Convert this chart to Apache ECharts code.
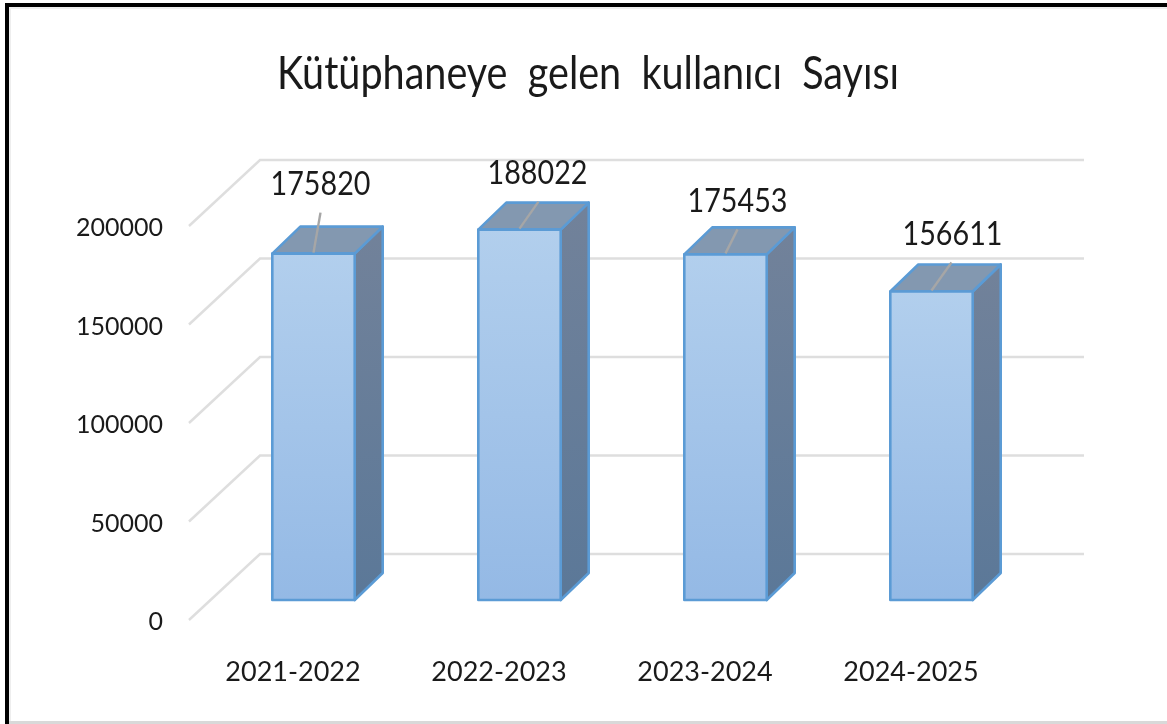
<!DOCTYPE html>
<html><head><meta charset="utf-8">
<style>html,body{margin:0;padding:0;background:#fff}#c{width:1167px;height:724px}</style>
<script src="https://cdn.jsdelivr.net/npm/echarts@6/dist/echarts.min.js"></script>
</head><body><div id="c"></div>
<script>
const categories = ['2021-2022','2022-2023','2023-2024','2024-2025'];
const values = [175820,188022,175453,156611];
const ticks = [0,50000,100000,150000,200000];
const titleText = 'Kütüphaneye  gelen  kullanıcı  Sayısı';

const FONT = 'Lato, sans-serif';
// leader-line end and label centre relative to the bar's top-front centre
const labelPlacement = [
  {lx:7, ly:-41, tx:7, ty:-69},
  {lx:19, ly:-28, tx:18, ty:-56},
  {lx:12, ly:-25, tx:12, ty:-53},
  {lx:20, ly:-29, tx:21, ty:-57}
];
const wall = {dx:70, dy:68};
const barShiftX = 20.5, barShiftY = 22, depthX = 28, depthY = 27;

const chart = echarts.init(document.getElementById('c'), null, {renderer:'canvas'});
chart.setOption({
  animation:false,
  backgroundColor:'#fff',
  grid:{left:190,width:824,top:228,height:394},
  xAxis:{type:'category',data:categories,
    axisLine:{show:false},axisTick:{show:false},splitLine:{show:false},
    axisLabel:{margin:37,fontFamily:FONT,fontSize:27,color:'#1a1a1a'}},
  yAxis:{type:'value',min:0,max:200000,interval:50000,
    axisLine:{show:false},axisTick:{show:false},splitLine:{show:false},
    axisLabel:{margin:27,fontFamily:FONT,fontSize:25,color:'#1a1a1a',formatter:v=>String(v)}},
  graphic:[
    {type:'rect',shape:{x:5,y:3,width:1162,height:4},style:{fill:'#000'},silent:true},
    {type:'rect',shape:{x:5,y:3,width:4,height:721},style:{fill:'#000'},silent:true},
    {type:'rect',shape:{x:9,y:7,width:1158,height:2},style:{fill:'#eeeeee'},silent:true},
    {type:'rect',shape:{x:9,y:7,width:2,height:717},style:{fill:'#eeeeee'},silent:true},
    {type:'rect',shape:{x:9,y:721,width:1158,height:3},style:{fill:'#d9d9d9'},silent:true},
    {type:'text',x:588,y:74,scaleX:0.86,silent:true,
      style:{text:titleText,fontFamily:FONT,fontSize:46,fill:'#1a1a1a',align:'center',verticalAlign:'middle'}}
  ],
  series:[
    {type:'custom',coordinateSystem:'cartesian2d',data:ticks.map(t=>[0,t]),silent:true,z:1,
      encode:{x:0,y:1},
      renderItem(params,api){
        const cs=params.coordSys;
        const y=api.coord([0,api.value(1)])[1];
        return {type:'polyline',shape:{points:[
          [cs.x-1,y-2],[cs.x+wall.dx,y-wall.dy],[cs.x+cs.width+wall.dx,y-wall.dy]
        ]},style:{stroke:'#dedede',lineWidth:2.4,fill:'none'}};
      }},
    {type:'custom',coordinateSystem:'cartesian2d',
      data:values.map((v,i)=>[i,v]),silent:true,z:2,
      encode:{x:0,y:1},
      renderItem(params,api){
        const i=api.value(0), v=api.value(1);
        const top=api.coord([i,v]), base=api.coord([i,0]);
        const w=api.size([1,0])[0]*0.4;
        const cx=top[0]+barShiftX;
        const x0=cx-w/2, x1=cx+w/2, yt=top[1]-barShiftY, yb=base[1]-barShiftY;
        const edge={stroke:'#5b9bd5',lineWidth:2.6,lineJoin:'round'};
        const grad=(a,b)=>new echarts.graphic.LinearGradient(0,0,0,1,[{offset:0,color:a},{offset:1,color:b}]);
        const p=labelPlacement[i];
        return {type:'group',children:[
          {type:'polygon',shape:{points:[[x1,yt],[x1+depthX,yt-depthY],[x1+depthX,yb-depthY],[x1,yb]]},
            style:{fill:grad('#72829a','#5b7898'),...edge}},
          {type:'polygon',shape:{points:[[x0,yt],[x0+depthX,yt-depthY],[x1+depthX,yt-depthY],[x1,yt]]},
            style:{fill:'#8398b0',...edge}},
          {type:'rect',shape:{x:x0,y:yt,width:w,height:yb-yt},
            style:{fill:grad('#b2cfed','#94b9e5'),...edge}},
          {type:'line',shape:{x1:cx,y1:yt-1,x2:cx+p.lx,y2:yt+p.ly},
            style:{stroke:'#a6a6a6',lineWidth:2.4}},
          {type:'text',x:cx+p.tx,y:yt+p.ty,scaleX:0.87,
            style:{text:String(v),fontFamily:FONT,fontSize:33,fill:'#1a1a1a',align:'center',verticalAlign:'middle'}}
        ]};
      }}
  ]
});
</script></body></html>
